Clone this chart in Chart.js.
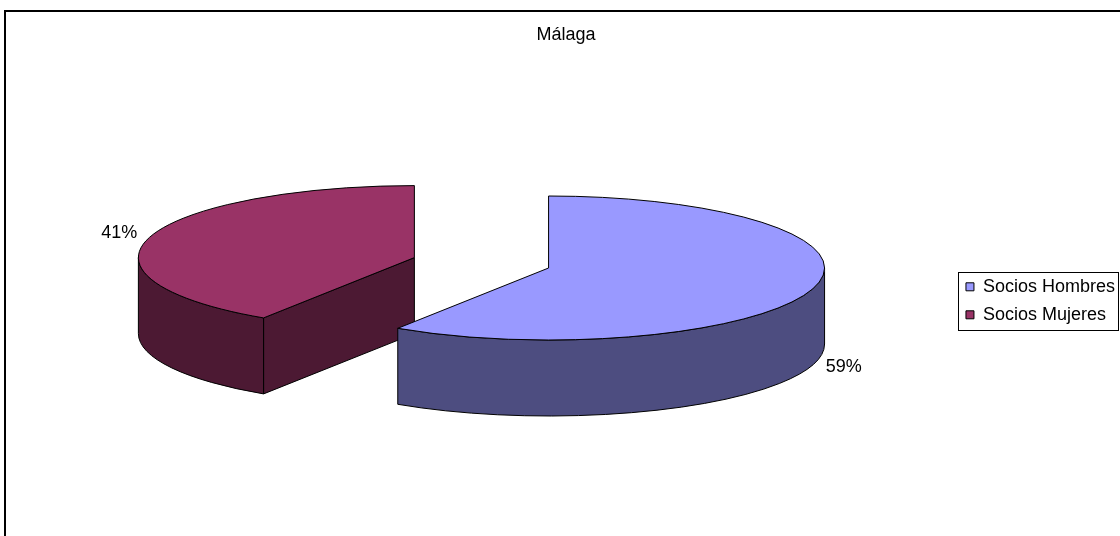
<!DOCTYPE html>
<html>
<head>
<meta charset="utf-8">
<script src="https://cdn.jsdelivr.net/npm/chart.js@4.4.1/dist/chart.umd.min.js"></script>
<style>
  html, body { margin: 0; padding: 0; background: #fff; }
</style>
</head>
<body>
<canvas id="chart" width="1120" height="536"></canvas>
<script>
const categories = ['Socios Hombres', 'Socios Mujeres'];
const sharePct = [59.2, 40.8];
const chartTitle = 'Málaga';

const topColors = ['#9999FF', '#993366'];
const sideColors = ['#4D4D80', '#4C1933'];

const DEPTH = 76;          // thickness of the 3d pie
const TILT = 72 / 276;     // vertical squash of the pie disc
const FONT = "'Liberation Sans', Arial, sans-serif";

// parts of [a0, a1] on the near half of the ellipse (where sin > 0)
function frontRanges(a0, a1) {
  const out = [];
  for (let k = -2; k <= 2; k++) {
    const lo = Math.max(a0, k * 2 * Math.PI);
    const hi = Math.min(a1, k * 2 * Math.PI + Math.PI);
    if (hi > lo) out.push([lo, hi]);
  }
  return out;
}

const pie3d = {
  id: 'pie3d',
  beforeDraw(chart) {
    const ctx = chart.ctx;
    ctx.save();
    ctx.fillStyle = '#fff';
    ctx.fillRect(0, 0, chart.width, chart.height);
    ctx.strokeStyle = '#000';
    ctx.lineWidth = 2;
    ctx.strokeRect(5, 11, chart.width + 20, chart.height + 20);
    ctx.restore();
  },
  beforeDatasetsDraw(chart) {
    const ctx = chart.ctx;
    const meta = chart.getDatasetMeta(0);
    const total = sharePct.reduce((a, b) => a + b, 0);

    const slices = meta.data.map((arc, i) => {
      const p = arc.getProps(['x', 'y', 'startAngle', 'endAngle', 'outerRadius'], true);
      const mid = (p.startAngle + p.endAngle) / 2;
      const off = arc.options.offset || 0;
      const rx = p.outerRadius;
      const ry = rx * TILT;
      return {
        i, mid, rx, ry,
        a0: p.startAngle,
        a1: p.endAngle,
        cx: p.x + Math.cos(mid) * off,
        cy: p.y - DEPTH / 2 + Math.sin(mid) * off * TILT,
      };
    });

    // back slices first
    slices.sort((a, b) => Math.sin(a.mid) - Math.sin(b.mid));

    ctx.save();
    ctx.lineWidth = 1;
    ctx.strokeStyle = '#000';
    ctx.lineJoin = 'round';

    slices.forEach((s) => {
      // flat cut faces that turn towards the viewer
      const cuts = [[s.a0, Math.cos(s.a0) < -1e-6], [s.a1, Math.cos(s.a1) > 1e-6]];
      cuts.forEach(([a, visible]) => {
        if (!visible) return;
        const ex = s.cx + s.rx * Math.cos(a);
        const ey = s.cy + s.ry * Math.sin(a);
        ctx.beginPath();
        ctx.moveTo(s.cx, s.cy);
        ctx.lineTo(ex, ey);
        ctx.lineTo(ex, ey + DEPTH);
        ctx.lineTo(s.cx, s.cy + DEPTH);
        ctx.closePath();
        ctx.fillStyle = sideColors[s.i];
        ctx.fill();
        ctx.stroke();
      });

      // curved outer wall
      frontRanges(s.a0, s.a1).forEach(([lo, hi]) => {
        ctx.beginPath();
        ctx.ellipse(s.cx, s.cy, s.rx, s.ry, 0, lo, hi);
        ctx.lineTo(s.cx + s.rx * Math.cos(hi), s.cy + s.ry * Math.sin(hi) + DEPTH);
        ctx.ellipse(s.cx, s.cy + DEPTH, s.rx, s.ry, 0, hi, lo, true);
        ctx.closePath();
        ctx.fillStyle = sideColors[s.i];
        ctx.fill();
        ctx.stroke();
      });

      // top face
      ctx.beginPath();
      ctx.moveTo(s.cx, s.cy);
      ctx.ellipse(s.cx, s.cy, s.rx, s.ry, 0, s.a0, s.a1);
      ctx.closePath();
      ctx.fillStyle = topColors[s.i];
      ctx.fill();
      ctx.stroke();
    });

    // percentage labels
    ctx.fillStyle = '#000';
    ctx.font = '18px ' + FONT;
    ctx.textAlign = 'center';
    ctx.textBaseline = 'middle';
    slices.forEach((s) => {
      const front = Math.sin(s.mid) > 0;
      const x = s.cx + (s.rx + 32) * Math.cos(s.mid);
      const y = s.cy + s.ry * Math.sin(s.mid) + (front ? DEPTH + 3 : -4);
      ctx.fillText(Math.round(sharePct[s.i] / total * 100) + '%', x, y);
    });
    ctx.restore();
    return false;
  },
  afterDraw(chart) {
    const boxes = chart.legend.legendHitBoxes;
    if (!boxes || !boxes.length) return;
    const left = Math.min(...boxes.map((b) => b.left)) - 8;
    const right = Math.max(...boxes.map((b) => b.left + b.width)) + 3;
    const top = boxes[0].top - 6;
    const last = boxes[boxes.length - 1];
    const bottom = last.top + last.height + 6;
    const ctx = chart.ctx;
    ctx.save();
    ctx.strokeStyle = '#000';
    ctx.lineWidth = 1;
    ctx.strokeRect(Math.round(left) + 0.5, Math.round(top) + 0.5, Math.round(right - left), Math.round(bottom - top));
    ctx.restore();
  },
};

new Chart(document.getElementById('chart'), {
  type: 'pie',
  data: {
    labels: categories,
    datasets: [
      {
        data: sharePct,
        backgroundColor: topColors,
        borderColor: '#000',
        borderWidth: 1,
        radius: 276,
        offset: 70,
        clip: false,
      },
    ],
  },
  options: {
    responsive: false,
    animation: false,
    events: [],
    layout: {
      padding: { left: 7, right: -5, top: 0, bottom: 10 },
    },
    plugins: {
      title: {
        display: true,
        text: chartTitle,
        color: '#000',
        font: { family: FONT, size: 18, weight: 'normal' },
        padding: { top: 24, bottom: 30 },
      },
      legend: {
        position: 'right',
        align: 'center',
        fullSize: false,
        labels: {
          boxWidth: 8,
          boxHeight: 8,
          padding: 10,
          color: '#000',
          font: { family: FONT, size: 18 },
        },
      },
      tooltip: { enabled: false },
    },
  },
  plugins: [pie3d],
});
</script>
</body>
</html>
